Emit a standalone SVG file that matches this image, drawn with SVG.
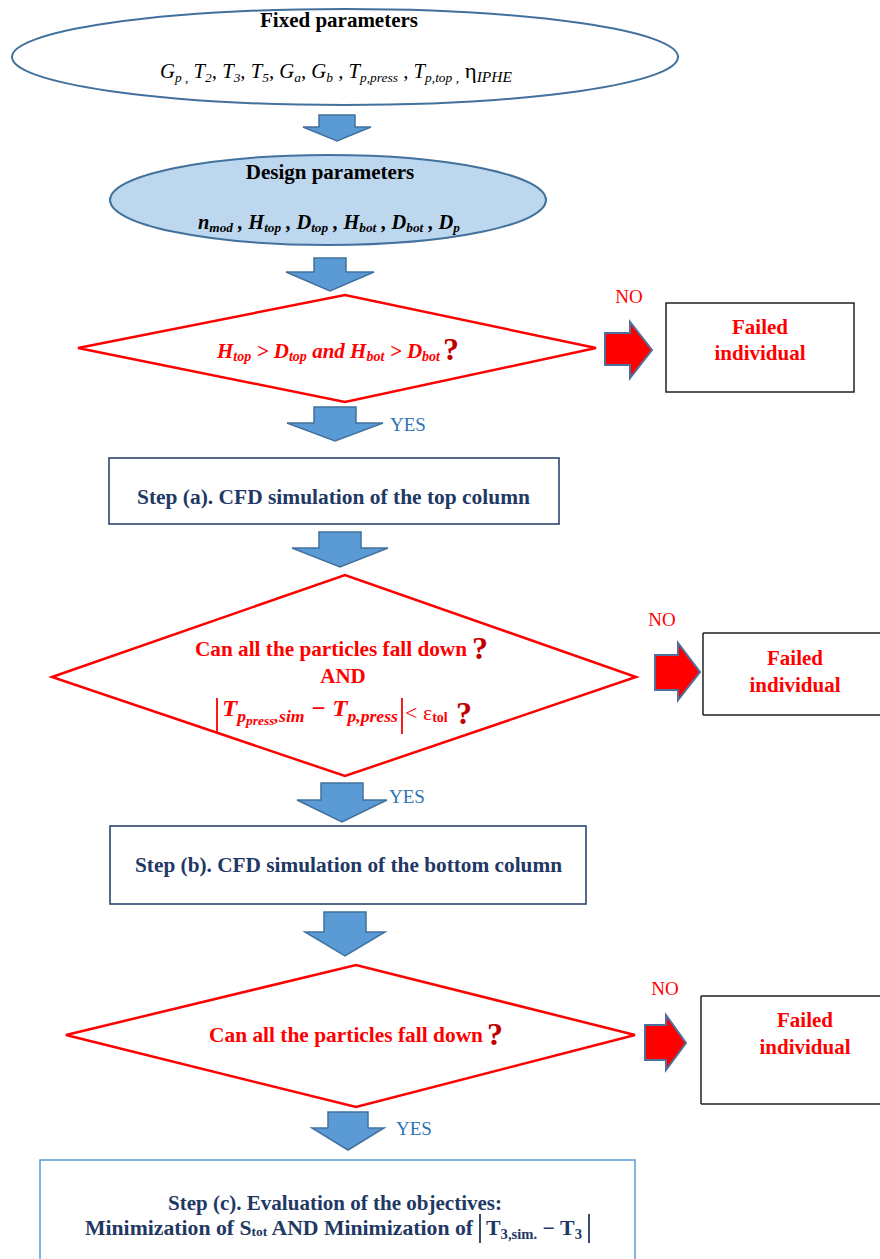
<svg xmlns="http://www.w3.org/2000/svg" width="880" height="1259" viewBox="0 0 880 1259">
<style>
.bl{fill:#5b9bd5;stroke:#41719c;stroke-width:1.5}
.rd{fill:#ff0000;stroke:#4f6f9f;stroke-width:2}
.dia{fill:#fff;stroke:#ff0000;stroke-width:2.5}
.fail{fill:#fff;stroke:#222;stroke-width:1.5}
.step{fill:#fff;stroke:#1f3864;stroke-width:1.5}
.t{font-family:"Liberation Serif","Times New Roman",serif}
.b{font-weight:bold}
.i{font-style:italic}
.red{fill:#ff0000}
.dred{fill:#c00000}
.navy{fill:#1f3864}
.blk{fill:#000}
.yes{fill:#2e75b6;font-size:19px}
.no{fill:#ff0000;font-size:19px}
</style>
<rect width="880" height="1259" fill="#fff"/>

<g id="fixed">
<ellipse cx="345" cy="57" rx="333" ry="48" fill="#fff" stroke="#41719c" stroke-width="2"/>
<text class="t b blk" x="339" y="27" font-size="21" text-anchor="middle">Fixed parameters</text>
<text class="t i blk" x="160" y="78" font-size="20" textLength="352" lengthAdjust="spacingAndGlyphs">G<tspan font-size="13" dy="4">p ,</tspan><tspan dy="-4"> T</tspan><tspan font-size="13" dy="4">2</tspan><tspan dy="-4">, T</tspan><tspan font-size="13" dy="4">3</tspan><tspan dy="-4">, T</tspan><tspan font-size="13" dy="4">5</tspan><tspan dy="-4">, G</tspan><tspan font-size="13" dy="4">a</tspan><tspan dy="-4">, G</tspan><tspan font-size="13" dy="4">b</tspan><tspan dy="-4"> , T</tspan><tspan font-size="13" dy="4">p,press</tspan><tspan dy="-4"> , T</tspan><tspan font-size="13" dy="4">p,top ,</tspan><tspan dy="-4" font-style="normal" font-size="22"> η</tspan><tspan font-size="15" dy="4">IPHE</tspan></text>
</g>

<g id="design">
<ellipse cx="328" cy="200" rx="218" ry="45" fill="#bdd7ee" stroke="#41719c" stroke-width="2"/>
<text class="t b blk" x="330" y="179" font-size="21" text-anchor="middle">Design parameters</text>
<text class="t b i blk" x="198" y="229" font-size="20" textLength="262" lengthAdjust="spacingAndGlyphs">n<tspan font-size="13" dy="3">mod</tspan><tspan dy="-3"> , H</tspan><tspan font-size="13" dy="3">top</tspan><tspan dy="-3"> , D</tspan><tspan font-size="13" dy="3">top</tspan><tspan dy="-3"> , H</tspan><tspan font-size="13" dy="3">bot</tspan><tspan dy="-3"> , D</tspan><tspan font-size="13" dy="3">bot</tspan><tspan dy="-3"> , D</tspan><tspan font-size="13" dy="3">p</tspan></text>
</g>

<g id="check1">
<polygon class="dia" points="78,348 345,295 596,348 345,402"/>
<text class="t b i red" x="217" y="358" font-size="21" textLength="223" lengthAdjust="spacingAndGlyphs">H<tspan font-size="14" dy="3">top</tspan><tspan dy="-3"> &gt; D</tspan><tspan font-size="14" dy="3">top</tspan><tspan dy="-3"> and H</tspan><tspan font-size="14" dy="3">bot</tspan><tspan dy="-3"> &gt; D</tspan><tspan font-size="14" dy="3">bot</tspan></text>
<text class="t b dred" x="443" y="360" font-size="32">?</text>
</g>

<g id="fail1">
<rect class="fail" x="666" y="303" width="188" height="89"/>
<text class="t b red" x="760" y="334" font-size="21" text-anchor="middle">Failed</text>
<text class="t b red" x="760" y="360" font-size="21" text-anchor="middle">individual</text>
</g>

<g id="stepA">
<rect class="step" x="109" y="458" width="450" height="66"/>
<text class="t b navy" x="137" y="504" font-size="20" textLength="393" lengthAdjust="spacingAndGlyphs">Step (a). CFD simulation of the top column</text>
</g>

<g id="check2">
<polygon class="dia" points="52,677 345,575 636,677 345,776"/>
<text class="t b red" x="195" y="656" font-size="21" textLength="272" lengthAdjust="spacingAndGlyphs">Can all the particles fall down</text>
<text class="t dred b" x="472" y="659" font-size="32">?</text>
<text class="t b red" x="343" y="683" font-size="21" text-anchor="middle">AND</text>
<line x1="217" y1="698" x2="217" y2="734" stroke="#ff0000" stroke-width="1.8"/>
<text class="t b i red" x="222" y="716" font-size="24" textLength="176" lengthAdjust="spacingAndGlyphs">T<tspan font-size="17" dy="6">p</tspan><tspan font-size="13" dy="3">press</tspan><tspan font-size="17" dy="-3">,sim</tspan><tspan dy="-6"> − T</tspan><tspan font-size="17" dy="6">p,press</tspan></text>
<line x1="402" y1="698" x2="402" y2="734" stroke="#ff0000" stroke-width="1.8"/>
<text class="t red" x="405" y="720" font-size="22">&lt; ε<tspan font-size="14" dy="2" font-weight="bold">tol</tspan></text>
<text class="t dred b" x="456" y="724" font-size="32">?</text>
</g>

<g id="fail2">
<path class="fail" d="M703,633 H880 M703,715 H880 M703,633 V715" fill="none"/>
<text class="t b red" x="795" y="665" font-size="21" text-anchor="middle">Failed</text>
<text class="t b red" x="795" y="692" font-size="21" text-anchor="middle">individual</text>
</g>

<g id="stepB">
<rect class="step" x="110" y="826" width="476" height="78"/>
<text class="t b navy" x="135" y="872" font-size="20" textLength="427" lengthAdjust="spacingAndGlyphs">Step (b). CFD simulation of the bottom column</text>
</g>

<g id="check3">
<polygon class="dia" points="66,1035 356,965 635,1035 356,1107"/>
<text class="t b red" x="209" y="1042" font-size="21" textLength="274" lengthAdjust="spacingAndGlyphs">Can all the particles fall down</text>
<text class="t dred b" x="487" y="1045" font-size="32">?</text>
</g>

<g id="fail3">
<path class="fail" d="M701,996 H880 M701,1104 H880 M701,996 V1104" fill="none"/>
<text class="t b red" x="805" y="1027" font-size="21" text-anchor="middle">Failed</text>
<text class="t b red" x="805" y="1054" font-size="21" text-anchor="middle">individual</text>
</g>

<g id="stepC">
<rect x="40" y="1160" width="595" height="110" fill="#fff" stroke="#5b9bd5" stroke-width="1.5"/>
<text class="t b navy" x="168" y="1210" font-size="21" textLength="334" lengthAdjust="spacingAndGlyphs">Step (c). Evaluation of the objectives:</text>
<text class="t b navy" x="85" y="1235" font-size="21" textLength="388" lengthAdjust="spacingAndGlyphs">Minimization of S<tspan font-size="13" dy="1">tot</tspan><tspan dy="-1">  AND Minimization of</tspan></text>
<line x1="480" y1="1214" x2="480" y2="1243" stroke="#1f3864" stroke-width="1.8"/>
<text class="t b navy" x="486" y="1235" font-size="21" textLength="96" lengthAdjust="spacingAndGlyphs">T<tspan font-size="14" dy="4">3,sim.</tspan><tspan dy="-4"> − T</tspan><tspan font-size="14" dy="4">3</tspan></text>
<line x1="589" y1="1214" x2="589" y2="1243" stroke="#1f3864" stroke-width="1.8"/>
</g>

<g id="connectors">
<path class="bl" d="M319,115 H355 V127 H371 L337,141 L303,127 H319 Z"/>
<path class="bl" d="M314,258 H346 V272 H374 L330,291 L286,272 H314 Z"/>
<path class="bl" d="M314,407 H356 V423 H383 L335,441 L287,423 H314 Z"/>
<path class="bl" d="M319,532 H361 V548 H388 L340,567 L292,548 H319 Z"/>
<path class="bl" d="M321,783 H363 V800 H387 L342,822 L297,800 H321 Z"/>
<path class="bl" d="M324,912 H366 V932 H385 L345,956 L305,932 H324 Z"/>
<path class="bl" d="M328,1112 H368 V1128 H384 L348,1150 L312,1128 H328 Z"/>
<path class="rd" d="M605,333 H630 V322 L652,350 L630,378 V365 H605 Z"/>
<path class="rd" d="M655,655 H678 V643 L700,672 L678,700 V690 H655 Z"/>
<path class="rd" d="M645,1025 H666 V1015 L686,1043 L666,1070 V1060 H645 Z"/>
<text class="t no" x="629" y="303" text-anchor="middle">NO</text>
<text class="t no" x="662" y="626" text-anchor="middle">NO</text>
<text class="t no" x="665" y="995" text-anchor="middle">NO</text>
<text class="t yes" x="390" y="431">YES</text>
<text class="t yes" x="389" y="803">YES</text>
<text class="t yes" x="396" y="1135">YES</text>
</g>
</svg>
